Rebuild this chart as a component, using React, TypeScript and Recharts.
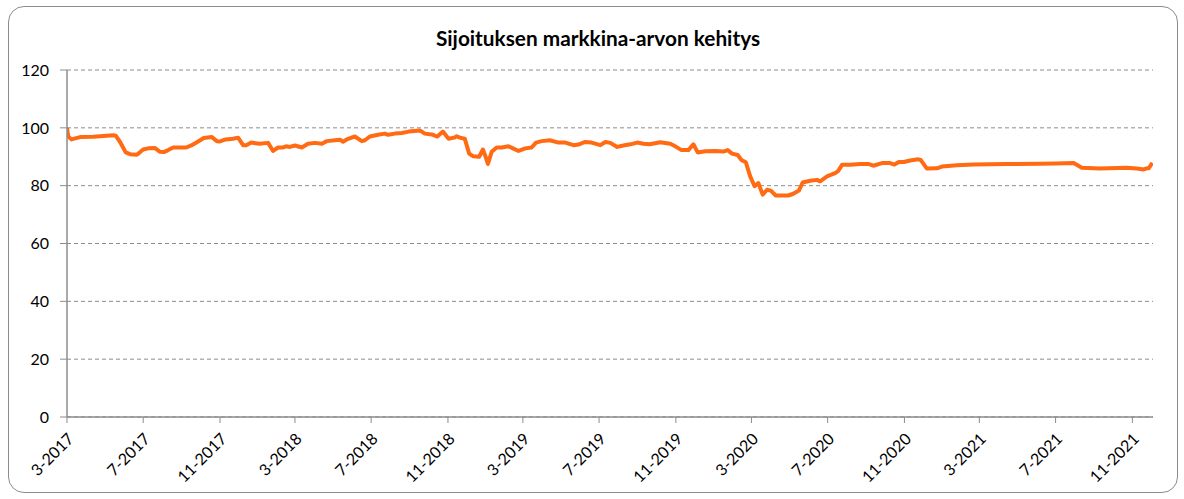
import React from "react";
import { LineChart, Line, XAxis, YAxis, CartesianGrid } from "recharts";

const title = "Sijoituksen markkina-arvon kehitys";

const dates: string[] = [
  "2017-03-01","2017-03-03","2017-03-08","2017-03-22","2017-04-12","2017-05-14","2017-05-18","2017-05-25",
  "2017-06-03","2017-06-10","2017-06-21","2017-07-01","2017-07-09","2017-07-20","2017-07-28","2017-08-03",
  "2017-08-10","2017-08-18","2017-08-29","2017-09-08","2017-09-16","2017-09-27","2017-10-06","2017-10-19",
  "2017-10-27","2017-11-01","2017-11-10","2017-11-22","2017-11-30","2017-12-08","2017-12-13","2017-12-21",
  "2017-12-28","2018-01-03","2018-01-17","2018-01-25","2018-02-02","2018-02-10","2018-02-15","2018-02-21",
  "2018-03-01","2018-03-12","2018-03-22","2018-04-02","2018-04-13","2018-04-21","2018-05-04","2018-05-12",
  "2018-05-17","2018-05-25","2018-06-05","2018-06-16","2018-06-21","2018-06-29","2018-07-12","2018-07-23",
  "2018-07-28","2018-08-08","2018-08-19","2018-08-30","2018-09-17","2018-09-25","2018-10-06","2018-10-15",
  "2018-10-24","2018-11-02","2018-11-11","2018-11-15","2018-11-20","2018-11-28","2018-12-05","2018-12-11",
  "2018-12-21","2018-12-27","2018-12-31","2019-01-04","2019-01-10","2019-01-18","2019-01-26","2019-02-06",
  "2019-02-14","2019-02-22","2019-03-05","2019-03-15","2019-03-22","2019-03-31","2019-04-13","2019-04-27",
  "2019-05-08","2019-05-21","2019-05-29","2019-06-08","2019-06-19","2019-07-03","2019-07-11","2019-07-19",
  "2019-07-30","2019-08-09","2019-08-20","2019-08-31","2019-09-10","2019-09-20","2019-10-07","2019-10-23",
  "2019-10-31","2019-11-10","2019-11-21","2019-11-29","2019-12-06","2019-12-18","2020-01-03","2020-01-16",
  "2020-01-23","2020-01-30","2020-02-08","2020-02-14","2020-02-21","2020-02-28","2020-03-06","2020-03-12",
  "2020-03-19","2020-03-26","2020-04-01","2020-04-09","2020-04-29","2020-05-07","2020-05-16","2020-05-22",
  "2020-06-03","2020-06-14","2020-06-19","2020-06-30","2020-07-13","2020-07-18","2020-07-24","2020-08-06",
  "2020-08-22","2020-09-04","2020-09-12","2020-09-26","2020-10-09","2020-10-16","2020-10-23","2020-10-31",
  "2020-11-10","2020-11-23","2020-11-27","2020-12-07","2020-12-23","2020-12-31","2021-01-24","2021-02-20",
  "2021-03-18","2021-04-14","2021-06-05","2021-07-01","2021-07-30","2021-08-12","2021-09-10","2021-10-23",
  "2021-11-08","2021-11-19","2021-11-24","2021-11-27","2021-12-03",
];

const values: number[] = [
  100.0, 97.0, 96.0, 96.8, 96.9, 97.4, 97.3, 95.1,
  91.5, 90.9, 90.7, 92.5, 92.9, 93.0, 91.7, 91.6,
  92.3, 93.2, 93.2, 93.2, 93.9, 95.3, 96.5, 96.8,
  95.4, 95.3, 96.0, 96.2, 96.6, 94.0, 94.0, 94.9,
  94.7, 94.5, 94.8, 92.0, 93.2, 93.2, 93.6, 93.4,
  93.9, 93.2, 94.5, 94.8, 94.5, 95.4, 95.7, 95.9,
  95.2, 96.2, 97.0, 95.4, 95.7, 97.0, 97.6, 98.0,
  97.6, 98.0, 98.2, 98.7, 99.1, 98.0, 97.7, 97.0,
  98.7, 96.2, 96.6, 97.1, 96.6, 96.2, 91.1, 90.2,
  90.0, 92.5, 90.2, 87.5, 91.7, 93.2, 93.2, 93.6,
  92.8, 92.0, 92.9, 93.2, 94.9, 95.4, 95.7, 94.9,
  94.9, 94.0, 94.2, 95.1, 94.9, 94.0, 95.1, 94.8,
  93.4, 93.9, 94.3, 94.9, 94.5, 94.3, 95.0, 94.5,
  93.6, 92.3, 92.3, 94.3, 91.5, 91.9, 92.0, 91.8,
  92.3, 91.1, 90.6, 88.9, 88.1, 83.2, 79.8, 80.9,
  76.9, 78.6, 78.3, 76.6, 76.6, 77.2, 78.3, 81.1,
  81.7, 82.0, 81.5, 83.2, 84.3, 85.1, 87.2, 87.2,
  87.5, 87.5, 86.9, 87.8, 87.8, 87.3, 88.2, 88.2,
  88.7, 89.1, 88.9, 85.9, 86.0, 86.6, 87.1, 87.3,
  87.4, 87.5, 87.6, 87.7, 87.8, 86.2, 85.9, 86.2,
  85.9, 85.6, 86.0, 86.0, 87.9,
];

const xTickDates: string[] = [
  "2017-03-01","2017-07-01","2017-11-01","2018-03-01","2018-07-01","2018-11-01",
  "2019-03-01","2019-07-01","2019-11-01","2020-03-01","2020-07-01","2020-11-01",
  "2021-03-01","2021-07-01","2021-11-01",
];
const xDomainDates: string[] = ["2017-03-01", "2021-12-04"];
const yTicks: number[] = [0, 20, 40, 60, 80, 100, 120];

const toT = (s: string) => Date.parse(s + "T00:00:00Z");
const data = dates.map((d, i) => ({ t: toT(d), v: values[i] }));

const fmt = (t: number) => {
  const d = new Date(t);
  return `${d.getUTCMonth() + 1}-${d.getUTCFullYear()}`;
};

const FONT = "Lato, 'Open Sans', sans-serif";

const XTick = (props: any) => {
  const { x, y, payload } = props;
  return (
    <g transform={`translate(${x},${y})`}>
      <text
        x={0}
        y={0}
        dx={-5.1}
        dy={16.1}
        textAnchor="end"
        transform="rotate(-45)"
        fontSize={16}
        fontFamily={FONT}
        fill="#000"
      >
        {fmt(payload.value)}
      </text>
    </g>
  );
};

export default function App() {
  return (
    <div style={{ position: "absolute", left: 0, top: 0, width: 1184, height: 499, background: "#fff" }}>
      <div
        style={{
          position: "absolute",
          left: 8,
          top: 6,
          width: 1170,
          height: 487,
          boxSizing: "border-box",
          border: "1px solid #8c8c8c",
          borderRadius: 16,
        }}
      />
      <div
        style={{
          position: "absolute",
          left: 0,
          top: 25,
          width: 1196,
          textAlign: "center",
          fontFamily: FONT,
          fontWeight: 700,
          fontSize: 20.8,
          lineHeight: "26px",
          color: "#000",
        }}
      >
        {title}
      </div>
      <div style={{ position: "absolute", left: 0, top: 0 }}>
        <LineChart
          width={1184}
          height={499}
          data={data}
          margin={{ top: 70, right: 31, bottom: 0, left: 0 }}
        >
          <CartesianGrid
            horizontal={true}
            vertical={false}
            stroke="#8c8c8c"
            strokeDasharray="4 3"
          />
          <XAxis
            dataKey="t"
            type="number"
            scale="linear"
            domain={xDomainDates.map(toT)}
            ticks={xTickDates.map(toT)}
            tick={<XTick />}
            tickLine={{ stroke: "#8c8c8c" }}
            axisLine={{ stroke: "#8c8c8c", strokeWidth: 1.5 }}
            tickSize={6}
            height={82}
            interval={0}
            allowDataOverflow={true}
          />
          <YAxis
            type="number"
            domain={[0, 120]}
            ticks={yTicks}
            width={67}
            tickSize={7}
            tickMargin={11}
            tickLine={{ stroke: "#8c8c8c" }}
            axisLine={{ stroke: "#8c8c8c", strokeWidth: 1.5 }}
            tick={{ fontSize: 16, fontFamily: FONT, fill: "#000" }}
            interval={0}
          />
          <Line
            type="linear"
            dataKey="v"
            stroke="#FF6A13"
            strokeWidth={4}
            dot={false}
            isAnimationActive={false}
            strokeLinejoin="round"
          />
        </LineChart>
      </div>
    </div>
  );
}
